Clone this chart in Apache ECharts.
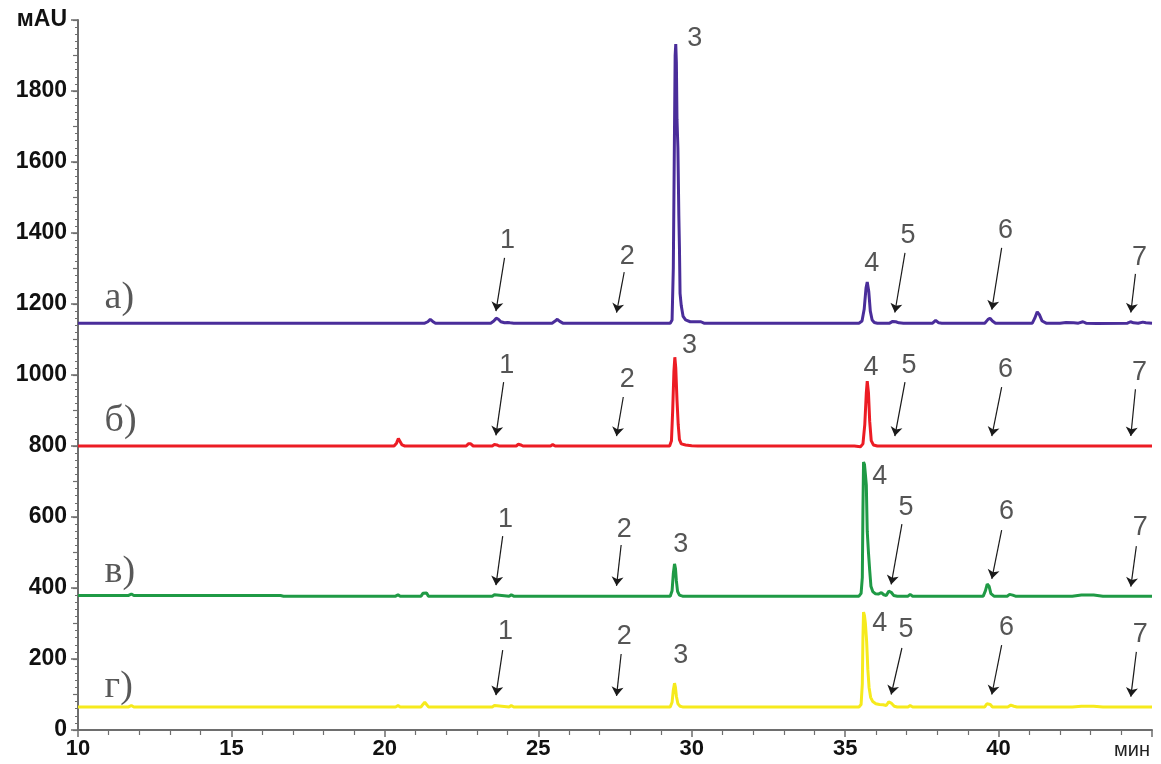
<!DOCTYPE html>
<html>
<head>
<meta charset="utf-8">
<title>Хроматограммы</title>
<script src="https://cdn.jsdelivr.net/npm/echarts@6/dist/echarts.min.js"></script>
<style>
  html, body { margin: 0; padding: 0; background: #fff; }
  #chart { width: 1161px; height: 764px; }
</style>
</head>
<body>
<div id="chart"></div>
<script>
// Chromatogram traces: [time, min ; signal, mAU]
const traceA = [
  [10,1146],[12,1146],[15,1146],[18,1146],[21.3,1146],[21.4,1150],[21.48,1157],[21.56,1151],[21.65,1146],
  [23.45,1146],[23.55,1152],[23.63,1160],[23.7,1157],[23.78,1150],[23.9,1147],[24.0,1148],[24.08,1147],[24.2,1146],
  [25.45,1146],[25.55,1152],[25.62,1157],[25.7,1151],[25.8,1146],
  [29.3,1146],[29.36,1155],[29.4,1300],[29.43,1600],[29.46,1900],[29.48,1932],[29.5,1880],[29.52,1720],[29.55,1640],
  [29.58,1450],[29.6,1360],[29.62,1230],[29.66,1195],[29.72,1165],[29.8,1155],[29.95,1150],[30.3,1150],[30.4,1146],
  [35.45,1146],[35.55,1152],[35.62,1185],[35.68,1245],[35.72,1262],[35.77,1235],[35.82,1180],[35.88,1155],[35.95,1148],[36.05,1146],
  [36.45,1146],[36.55,1151],[36.65,1150],[36.75,1147],[36.9,1146],
  [37.85,1146],[37.95,1154],[38.05,1147],[38.15,1146],
  [39.55,1146],[39.65,1156],[39.72,1160],[39.8,1152],[39.9,1146],
  [41.1,1146],[41.18,1160],[41.26,1178],[41.33,1170],[41.42,1152],[41.55,1146],
  [42.0,1146],[42.2,1148],[42.45,1147],[42.6,1146],[42.75,1150],[42.85,1146],[43.2,1145],
  [44.2,1146],[44.3,1150],[44.4,1147],[44.55,1146],[44.7,1149],[44.8,1147],[45,1146]
];

const traceB = [
  [10,800],[20.3,800],[20.38,808],[20.44,821],[20.5,818],[20.56,803],[20.65,800],
  [22.65,800],[22.72,806],[22.8,806],[22.88,800],
  [23.5,800],[23.57,804],[23.65,803],[23.72,800],
  [24.28,800],[24.35,805],[24.43,803],[24.5,800],
  [25.4,800],[25.47,804],[25.55,800],
  [29.28,800],[29.34,815],[29.38,900],[29.42,1010],[29.45,1050],[29.48,1020],[29.52,930],[29.56,860],[29.6,818],
  [29.66,806],[29.8,803],[30.0,801],[30.2,800],
  [35.3,800],[35.5,798],[35.58,806],[35.64,860],[35.69,950],[35.72,983],[35.76,950],[35.8,870],[35.85,815],
  [35.92,803],[36.05,800],[45,800]
];

const traceC = [
  [10,379],[11.65,379],[11.74,383],[11.82,379],[16.6,379],[16.7,377],[20.35,377],[20.43,381],[20.5,377],
  [21.18,377],[21.24,385],[21.3,390],[21.36,386],[21.42,377],
  [23.5,377],[23.57,381],[23.63,377],[24.05,377],[24.12,381],[24.2,377],[25.32,377],[25.38,381],[25.44,377],
  [29.3,377],[29.36,392],[29.4,440],[29.44,468],[29.47,455],[29.5,420],[29.54,390],[29.6,380],[29.7,377],
  [35.45,377],[35.52,385],[35.56,430],[35.58,620],[35.6,755],[35.63,748],[35.66,720],[35.69,690],[35.72,560],
  [35.76,500],[35.8,450],[35.84,405],[35.9,390],[35.98,384],[36.08,383],[36.18,387],[36.26,381],[36.34,379],
  [36.42,391],[36.5,388],[36.58,379],[36.7,377],
  [37.05,377],[37.12,382],[37.2,377],
  [39.5,377],[39.57,392],[39.63,411],[39.69,405],[39.75,384],[39.85,377],
  [40.28,377],[40.36,382],[40.46,380],[40.55,377],
  [42.4,377],[42.7,380],[43.1,380],[43.4,377],[45,377]
];

const traceD = [
  [10,65],[11.65,65],[11.74,69],[11.82,65],[20.35,65],[20.43,69],[20.5,65],
  [21.18,65],[21.24,72],[21.3,78],[21.36,74],[21.42,65],
  [23.5,65],[23.57,69],[23.63,65],[24.05,65],[24.12,69],[24.2,65],[25.32,65],[25.38,69],[25.44,65],
  [29.3,65],[29.36,78],[29.4,112],[29.44,132],[29.47,120],[29.5,95],[29.55,74],[29.62,67],[29.7,65],
  [35.45,65],[35.52,72],[35.56,130],[35.58,260],[35.6,332],[35.63,322],[35.66,300],[35.7,250],[35.74,170],
  [35.78,120],[35.83,92],[35.9,80],[36.0,74],[36.12,72],[36.24,71],[36.34,69],[36.42,79],[36.5,76],[36.6,67],[36.7,65],
  [37.05,65],[37.12,69],[37.2,65],
  [39.55,65],[39.62,74],[39.67,79],[39.73,72],[39.8,65],
  [40.3,65],[40.4,70],[40.5,67],[40.6,65],
  [42.4,65],[42.7,67],[43.1,67],[43.4,65],[45,65]
];

// Trace captions: [time, signal, text]
const traceCaptions = [
  [10.85, 1217, 'а)'],
  [10.85, 870, 'б)'],
  [10.85, 445, 'в)'],
  [10.85, 120, 'г)']
];

// Peak numbers: [time, signal, text]
const peakNumbers = [
  [24.0,1380,'1'],[27.9,1335,'2'],[30.1,1949,'3'],[35.87,1315,'4'],[37.05,1392,'5'],[40.23,1408,'6'],[44.59,1330,'7'],
  [23.97,1028,'1'],[27.9,986,'2'],[29.93,1082,'3'],[35.84,1022,'4'],[37.08,1028,'5'],[40.23,1014,'6'],[44.59,1008,'7'],
  [23.93,594,'1'],[27.8,566,'2'],[29.64,521,'3'],[36.13,715,'4'],[36.98,628,'5'],[40.26,614,'6'],[44.62,569,'7'],
  [23.93,276,'1'],[27.8,262,'2'],[29.64,211,'3'],[36.13,301,'4'],[36.98,282,'5'],[40.26,290,'6'],[44.62,270,'7']
];

// Pointer arrows: [fromTime, fromSignal, toTime, toSignal]
const pointerArrows = [
  [23.9,1330,23.62,1180],[27.8,1290,27.55,1176],[36.95,1344,36.62,1176],[40.1,1358,39.78,1184],[44.46,1285,44.31,1176],
  [23.87,980,23.62,830],[27.77,938,27.55,828],[36.95,980,36.62,828],[40.1,966,39.78,828],[44.46,960,44.31,828],
  [23.84,546,23.62,408],[27.7,521,27.55,406],[36.85,580,36.5,410],[40.1,563,39.78,426],[44.49,518,44.31,404],
  [23.84,225,23.62,98],[27.7,214,27.55,96],[36.85,231,36.5,100],[40.1,239,39.78,100],[44.49,220,44.31,94]
];

const xTicks = { min: 10, max: 45, interval: 5 };
const yTicks = { min: 0, max: 2000, interval: 200 };

const colors = ['#4a2d9a', '#ec1c24', '#1f9a45', '#f6ea1c'];

const chart = echarts.init(document.getElementById('chart'), null, { renderer: 'canvas' });

const axisGray = '#6e6e6e';

function traceSeries(name, data, color) {
  return {
    name: name,
    type: 'line',
    data: data,
    showSymbol: false,
    symbol: 'none',
    smooth: false,
    lineStyle: { color: color, width: 3 },
    z: 3,
    silent: true
  };
}

const option = {
  animation: false,
  backgroundColor: '#ffffff',
  grid: { left: 78, right: 9, top: 20, bottom: 34, containLabel: false },
  xAxis: {
    type: 'value',
    min: xTicks.min,
    max: xTicks.max,
    interval: xTicks.interval,
    name: 'мин',
    nameLocation: 'end',
    nameGap: 0,
    nameTextStyle: {
      fontFamily: 'Liberation Sans', fontSize: 20, color: '#222',
      align: 'right', verticalAlign: 'top', padding: [10, 2, 0, 0]
    },
    axisLine: { show: true, lineStyle: { color: axisGray, width: 2 } },
    axisTick: { show: true, length: 7, lineStyle: { color: axisGray, width: 1.5 } },
    minorTick: { show: true, splitNumber: 5, length: 5, lineStyle: { color: axisGray, width: 1.2 } },
    splitLine: { show: false },
    axisLabel: {
      margin: 8,
      fontFamily: 'Liberation Sans', fontWeight: 'bold', fontSize: 22, color: '#111',
      formatter: v => (v === xTicks.max ? '' : String(v))
    }
  },
  yAxis: [
    {
      type: 'value',
      min: yTicks.min,
      max: yTicks.max,
      interval: yTicks.interval,
      axisLine: { show: true, lineStyle: { color: axisGray, width: 2 } },
      axisTick: { show: true, length: 7, lineStyle: { color: axisGray, width: 1.5 } },
      minorTick: { show: true, splitNumber: 10, length: 3, lineStyle: { color: axisGray, width: 1 } },
      splitLine: { show: false },
      axisLabel: {
        margin: 11,
        fontFamily: 'Liberation Sans', fontWeight: 'bold', fontSize: 23, color: '#111',
        formatter: v => (v === yTicks.max ? 'мAU' : String(v))
      }
    },
    {
      // intermediate ticks every 100 mAU
      type: 'value',
      min: yTicks.min,
      max: yTicks.max,
      interval: 100,
      position: 'left',
      axisLine: { show: false },
      axisTick: { show: true, length: 5, lineStyle: { color: axisGray, width: 1.2 } },
      axisLabel: { show: false },
      splitLine: { show: false }
    }
  ],
  series: [
    traceSeries('а', traceA, colors[0]),
    traceSeries('б', traceB, colors[1]),
    traceSeries('в', traceC, colors[2]),
    traceSeries('г', traceD, colors[3]),
    {
      name: 'captions',
      type: 'scatter',
      data: traceCaptions,
      symbolSize: 1,
      itemStyle: { color: 'rgba(0,0,0,0)' },
      silent: true,
      z: 5,
      label: {
        show: true,
        position: 'right',
        distance: 0,
        formatter: p => p.data[2],
        fontFamily: 'Liberation Serif',
        fontSize: 38,
        color: '#2e2e2e'
      }
    },
    {
      name: 'peaks',
      type: 'scatter',
      data: peakNumbers,
      symbolSize: 1,
      itemStyle: { color: 'rgba(0,0,0,0)' },
      silent: true,
      z: 5,
      label: {
        show: true,
        position: 'inside',
        formatter: p => p.data[2],
        fontFamily: 'Liberation Sans',
        fontSize: 27,
        color: '#2b2b2b'
      },
      markLine: {
        silent: true,
        symbol: ['none', 'arrow'],
        symbolSize: 9,
        label: { show: false },
        lineStyle: { color: '#1a1a1a', width: 1.2, type: 'solid' },
        emphasis: { disabled: true },
        data: pointerArrows.map(a => [
          { coord: [a[0], a[1]] },
          { coord: [a[2], a[3]] }
        ])
      }
    }
  ]
};

chart.setOption(option);
</script>
</body>
</html>
